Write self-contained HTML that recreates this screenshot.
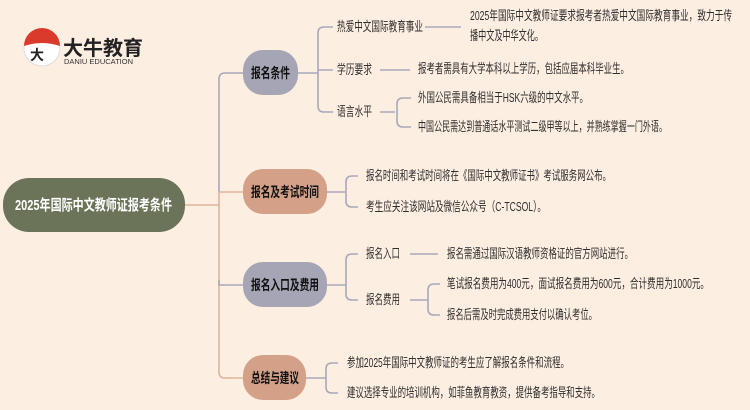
<!DOCTYPE html>
<html><head><meta charset="utf-8"><style>
html,body{margin:0;padding:0;background:#fdeee2;}
svg{display:block;}
text{font-family:"Liberation Sans","Noto Sans CJK SC",sans-serif;}
.l{font-size:13px;fill:#2e2e2e;}
.b{font-size:14px;font-weight:bold;fill:#111;}
</style></head><body>
<svg width="750" height="410" viewBox="0 0 750 410" xmlns="http://www.w3.org/2000/svg">
<rect width="750" height="410" fill="#fdeee2"/>
<!-- logo -->
<circle cx="42" cy="48" r="18" fill="#fff" stroke="#ddd" stroke-width="1"/>
<path d="M24 46 A18 18 0 0 1 60 46 Z" fill="#d93a2b"/>
<path d="M24 46 Q42 40 60 46" fill="#fff"/>
<text x="30" y="60" style="font-size:14px;font-weight:bold;fill:#222">大</text>
<text x="63" y="55" style="font-size:20px;font-weight:bold;fill:#222">大牛教育</text>
<text x="64" y="64" style="font-size:7px;fill:#333" textLength="69" lengthAdjust="spacingAndGlyphs">DANIU EDUCATION</text>
<!-- connectors -->
<g fill="none" stroke-width="1.6">
<path d="M185 205 H219" stroke="#e0b49a"/>
<path d="M243 73 H225 Q219 73 219 79 V192" stroke="#a8a9bd"/>
<path d="M219 192 V372 Q219 378 225 378 H243 M219 192 H243" stroke="#e0b49a"/>
<path d="M219 280 V285 H243" stroke="#a8a9bd"/>
<g stroke="#a8a9bd">
<path d="M298 73 H318 M318 70 V33 Q318 27 324 27 H333 M318 70 H333 M318 70 V106 Q318 112 324 112 H333"/>
<path d="M425 27 H461 M380 70 H410 M380 112 H395 M397 112 V104 Q397 98 403 98 H411 M397 112 V121 Q397 127 403 127 H411"/>
<path d="M327 192 H346 V182 Q346 176 352 176 H358 M346 192 V201 Q346 207 352 207 H358"/>
<path d="M327 285 H346 V260 Q346 254 352 254 H358 M346 285 V294 Q346 300 352 300 H358"/>
<path d="M410 254 H438 M410 300 H428 V290 Q428 284 434 284 H440 M428 300 V309 Q428 315 434 315 H440"/>
<path d="M306 378 H326 V369 Q326 363 332 363 H338 M326 378 V387 Q326 393 332 393 H338"/>
</g>
</g>
<!-- root -->
<rect x="3" y="178" width="182" height="54" rx="26" fill="#6b7458"/>
<text x="15" y="210" style="font-size:15px;font-weight:bold;fill:#fff" textLength="157" lengthAdjust="spacingAndGlyphs">2025年国际中文教师证报考条件</text>
<!-- branches -->
<rect x="243" y="50" width="55" height="45" rx="20" fill="#a5a5b5"/>
<text class="b" x="251" y="78" textLength="39" lengthAdjust="spacingAndGlyphs">报名条件</text>
<rect x="243" y="169" width="84" height="45" rx="20" fill="#d4a088"/>
<text class="b" x="251" y="197" textLength="68" lengthAdjust="spacingAndGlyphs">报名及考试时间</text>
<rect x="243" y="262" width="84" height="45" rx="20" fill="#a5a5b5"/>
<text class="b" x="251" y="290" textLength="68" lengthAdjust="spacingAndGlyphs">报名入口及费用</text>
<rect x="243" y="355" width="63" height="45" rx="20" fill="#d4a088"/>
<text class="b" x="251" y="383" textLength="48" lengthAdjust="spacingAndGlyphs">总结与建议</text>
<!-- leaves -->
<text class="l" x="337" y="31" textLength="86" lengthAdjust="spacingAndGlyphs">热爱中文国际教育事业</text>
<text class="l" x="470" y="20" textLength="262" lengthAdjust="spacingAndGlyphs">2025年国际中文教师证要求报考者热爱中文国际教育事业，致力于传</text>
<text class="l" x="470" y="40" textLength="73" lengthAdjust="spacingAndGlyphs">播中文及中华文化。</text>
<text class="l" x="337" y="74" textLength="35" lengthAdjust="spacingAndGlyphs">学历要求</text>
<text class="l" x="418" y="73" textLength="211" lengthAdjust="spacingAndGlyphs">报考者需具有大学本科以上学历，包括应届本科毕业生。</text>
<text class="l" x="337" y="116" textLength="35" lengthAdjust="spacingAndGlyphs">语言水平</text>
<text class="l" x="418" y="102" textLength="170" lengthAdjust="spacingAndGlyphs">外国公民需具备相当于HSK六级的中文水平。</text>
<text class="l" x="418" y="131" textLength="249" lengthAdjust="spacingAndGlyphs">中国公民需达到普通话水平测试二级甲等以上，并熟练掌握一门外语。</text>
<text class="l" x="366" y="180" textLength="245" lengthAdjust="spacingAndGlyphs">报名时间和考试时间将在《国际中文教师证书》考试服务网公布。</text>
<text class="l" x="366" y="211" textLength="180" lengthAdjust="spacingAndGlyphs">考生应关注该网站及微信公众号（C-TCSOL）。</text>
<text class="l" x="366" y="258" textLength="34" lengthAdjust="spacingAndGlyphs">报名入口</text>
<text class="l" x="447" y="258" textLength="186" lengthAdjust="spacingAndGlyphs">报名需通过国际汉语教师资格证的官方网站进行。</text>
<text class="l" x="366" y="304" textLength="34" lengthAdjust="spacingAndGlyphs">报名费用</text>
<text class="l" x="447" y="288" textLength="262" lengthAdjust="spacingAndGlyphs">笔试报名费用为400元，面试报名费用为600元，合计费用为1000元。</text>
<text class="l" x="447" y="319" textLength="150" lengthAdjust="spacingAndGlyphs">报名后需及时完成费用支付以确认考位。</text>
<text class="l" x="347" y="367" textLength="222" lengthAdjust="spacingAndGlyphs">参加2025年国际中文教师证的考生应了解报名条件和流程。</text>
<text class="l" x="347" y="397" textLength="253" lengthAdjust="spacingAndGlyphs">建议选择专业的培训机构，如菲鱼教育教资，提供备考指导和支持。</text>
</svg>
</body></html>
